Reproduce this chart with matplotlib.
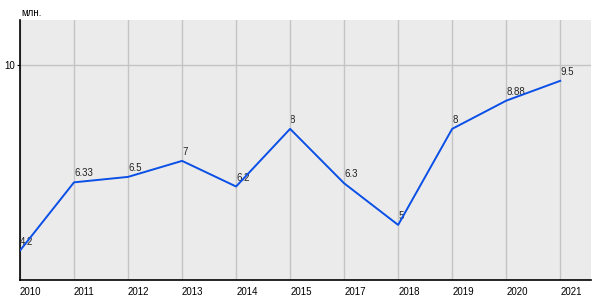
import matplotlib
matplotlib.use("Agg")
import matplotlib.pyplot as plt

years = ["2010", "2011", "2012", "2013", "2014", "2015", "2017", "2018", "2019", "2020", "2021"]
values = [4.2, 6.33, 6.5, 7, 6.2, 8, 6.3, 5, 8, 8.88, 9.5]
labels = ["4.2", "6.33", "6.5", "7", "6.2", "8", "6.3", "5", "8", "8.88", "9.5"]

plt.rcParams['font.family'] = ['Liberation Sans', 'DejaVu Sans']

fig = plt.figure(figsize=(6, 3), dpi=100)
ax = fig.add_axes([20/600, 20/300, 571/600, 260/300])
ax.set_facecolor('#ebebeb')
x = list(range(len(years)))
ax.plot(x, values, color='#0a4fe6', lw=1.4, zorder=3)
for xi, v, lab in zip(x, values, labels):
    ax.text(xi, v + 0.12, lab, fontsize=7, ha='left', va='bottom', color='#222222', zorder=0.5)

ax.set_xlim(0, 10.57)
ax.set_ylim(3.28, 11.4)
ax.set_xticks(x)
ax.set_xticklabels(years, ha='left')
ax.set_yticks([10])
ax.set_yticklabels(["10"])
ax.tick_params(axis='x', length=0, labelsize=7, pad=5)
ax.tick_params(axis='y', length=2.5, labelsize=7, pad=1)
ax.grid(True, color='#c4c4c4', lw=1)
ax.set_axisbelow('line')
for s in ['top', 'right']:
    ax.spines[s].set_visible(False)
for s in ['left', 'bottom']:
    ax.spines[s].set_color('black')
    ax.spines[s].set_linewidth(1.2)
fig.text(21/600, 1 - 13/300, "млн.", fontsize=7, va='center', ha='left')
fig.savefig("out.png", dpi=100)
